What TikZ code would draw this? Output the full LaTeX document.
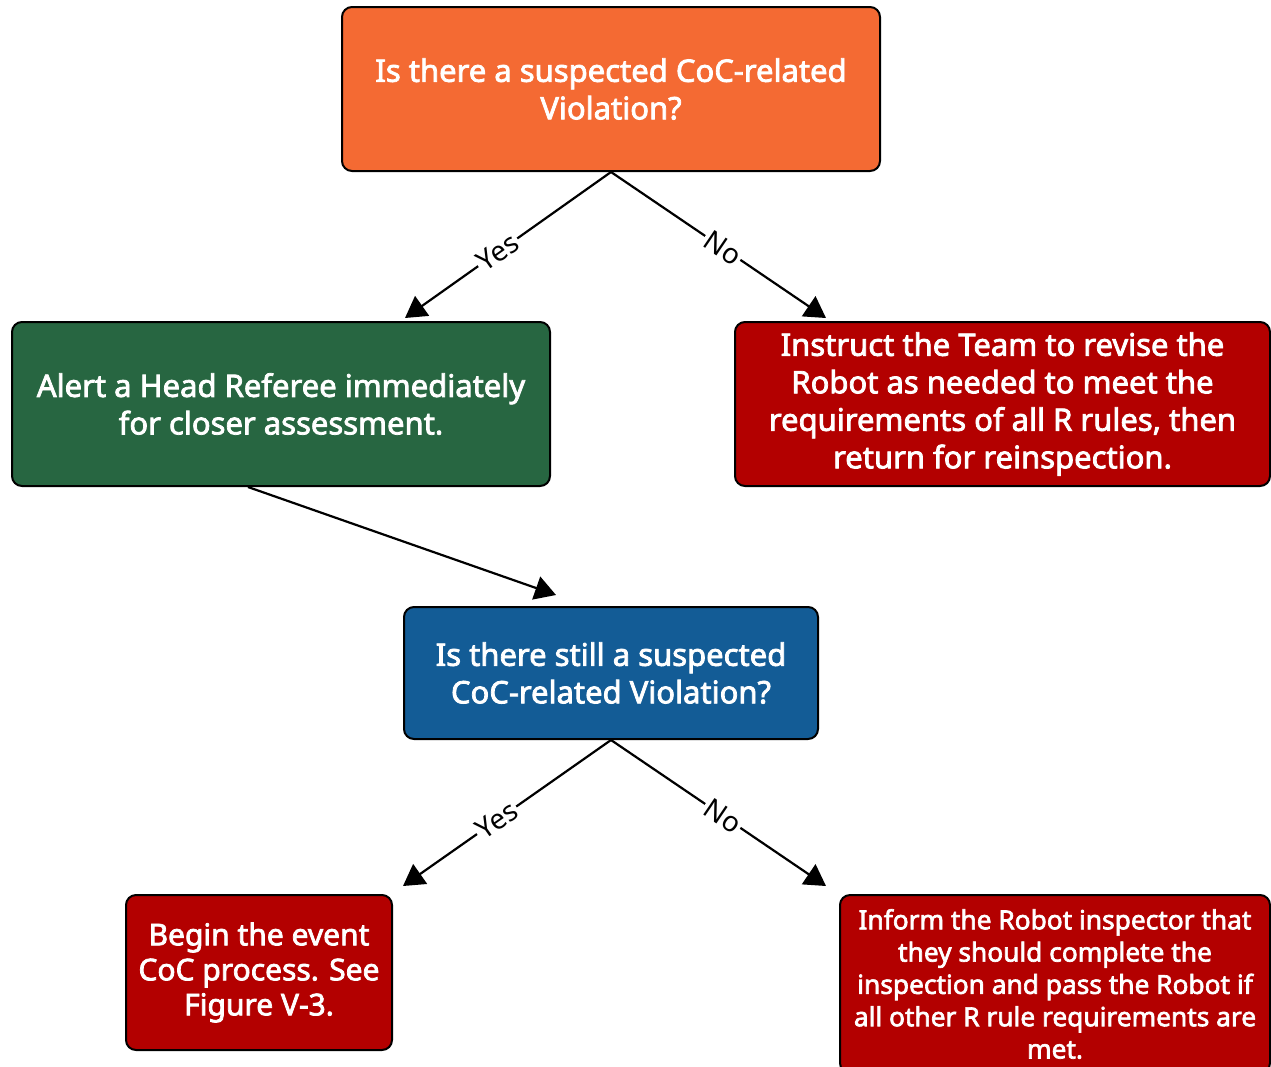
\documentclass[tikz,border=0pt]{standalone}
\usepackage{fontspec}
\setmainfont{Noto Sans}[FakeBold=2.5]
\newfontfamily\lblfont{Noto Sans}
\usetikzlibrary{arrows.meta}
\definecolor{corange}{HTML}{F46A33}
\definecolor{cgreen}{HTML}{276641}
\definecolor{cred}{HTML}{B30000}
\definecolor{cblue}{HTML}{135C96}
\begin{document}
\begin{tikzpicture}[x=1pt,y=-1pt,
  box/.style={draw=black, line width=2pt, rounded corners=10pt, text=white, align=center, inner sep=0pt},
  big/.style={font=\fontsize{31}{37.5}\selectfont},
  mid/.style={font=\fontsize{30}{35}\selectfont},
  small/.style={font=\fontsize{26.3}{32.3}\selectfont},
  conn/.style={line width=2.2pt, -{Triangle[length=21pt,width=24pt]}},
  lbl/.style={fill=white, sloped, font=\lblfont\fontsize{28}{30}\selectfont, inner sep=2pt}]
\useasboundingbox (0,0) rectangle (1271,1066);
\clip (0,0) rectangle (1271,1066);
\node[box, big, fill=corange, minimum width=538pt, minimum height=164pt] (q1) at (611,89)
  {Is there a suspected CoC-related\\Violation?};
\node[box, big, fill=cgreen, minimum width=538pt, minimum height=164pt] (alert) at (281,404)
  {Alert a Head Referee immediately\\for closer assessment.};
\node[box, big, fill=cred, minimum width=535pt, minimum height=164pt] (revise) at (1002.5,404)
  {Instruct the Team to revise the\\Robot as needed to meet the\\requirements of all R rules, then\\return for reinspection.};
\node[box, big, fill=cblue, minimum width=414pt, minimum height=132pt] (q2) at (611,673)
  {Is there still a suspected\\CoC-related Violation?};
\node[box, mid, fill=cred, minimum width=266pt, minimum height=155pt] (begin) at (259,972.5)
  {Begin the event\\CoC process. See\\Figure V-3.};
\node[box, small, fill=cred, minimum width=430pt, minimum height=178pt] (inform) at (1055,984)
  {Inform the Robot inspector that\\they should complete the\\inspection and pass the Robot if\\all other R rule requirements are\\met.};
\coordinate (t1) at (405,318);
\coordinate (t2) at (826,318);
\coordinate (t3) at (556,595);
\coordinate (s3) at (248,487);
\coordinate (t4) at (403,886);
\coordinate (t5) at (826,886);
\draw[conn] (q1.south) -- node[lbl, pos=0.55] {Yes} (t1);
\draw[conn] (q1.south) -- node[lbl, pos=0.52] {No} (t2);
\draw[conn] (s3) -- (t3);
\draw[conn] (q2.south) -- node[lbl, pos=0.55] {Yes} (t4);
\draw[conn] (q2.south) -- node[lbl, pos=0.52] {No} (t5);
\end{tikzpicture}
\end{document}
